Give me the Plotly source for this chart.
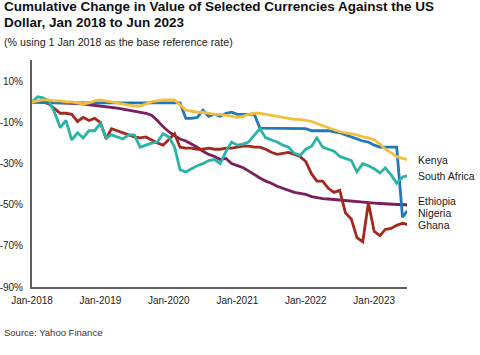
import plotly.graph_objects as go
import pandas as pd

# Monthly observations, Jan 2018 .. Jun 2023 (last = late June 2023)
dates = list(pd.date_range("2018-01-01", "2023-06-01", freq="MS").strftime("%Y-%m-%d")) + ["2023-06-26"]

kenya = [0, 0.5, 1, 1, 0.5, 0.5, 0, 0, -0.5, -1,
         -0.5, 0.5, 1, 0.5, 0, -0.5, -1, -1.5, -2, -2,
         -1, 0, 0.5, 1, 1, 1, -1.5, -4, -4.5, -5,
         -5, -5.5, -6, -6, -6.5, -7, -7.5, -7, -6, -5.5,
         -5.5, -6, -6.5, -7, -7.5, -8, -8.5, -8.5, -9, -9.5,
         -10.5, -11.5, -12.5, -13.5, -14.5, -15, -15.5, -16, -17, -17.5,
         -18.5, -20.5, -23, -25, -26.5, -27.5, -28]

nigeria = [0, 0, -0.3, -0.5, -0.5, -0.5, -0.5, -0.5, -0.5, -0.5,
           -0.5, -0.5, -0.5, -0.5, -0.5, -0.5, -0.5, -0.5, -0.5, -0.5,
           -0.5, -0.5, -0.5, -0.5, -0.5, -0.5, -0.5, -8, -8, -7.5,
           -4, -7, -6, -7, -5.5, -5, -6, -6, -6, -6,
           -12.7, -12.7, -12.7, -12.7, -12.7, -12.7, -12.7, -12.7, -13, -14,
           -14, -14, -14, -14.5, -15, -16, -17, -18, -19, -19.5,
           -21, -22, -22, -22, -22, -56, -53]

south_africa = [0, 2.5, 2, 0.5, -5, -12.5, -9, -18.5, -15, -17.5,
                -14, -14, -10.5, -17.5, -16, -17, -18, -16, -16, -22,
                -21, -20, -19.5, -15.5, -17, -22, -33, -34, -32.5, -31,
                -30, -28.5, -28, -30, -24, -19.5, -21, -20.5, -19.5, -16,
                -13, -17.5, -18.5, -19.5, -21, -22, -25, -26, -23, -21.5,
                -17.5, -22, -23, -24, -26.5, -27.5, -28.5, -34, -30, -31,
                -32.5, -34.5, -32, -35.5, -39.5, -36.5, -36]

ghana = [0, 0, 0, -1, -3, -5.5, -5.5, -6, -9.5, -7.5,
         -9, -8, -10, -18, -13, -14, -15, -16, -17, -17.5,
         -17, -18.5, -20, -21, -18, -15.5, -22, -22.5, -22.5, -23,
         -23, -22.5, -23, -23, -22.5, -22.5, -22, -21.5, -21.5, -22,
         -22, -23, -24.5, -25.5, -25, -24.5, -25.5, -26.5, -29, -35,
         -38.5, -38.5, -42, -44, -43, -54, -57, -66, -68, -49,
         -63, -65, -62, -61.5, -60, -59, -59.5]

ethiopia = [0, 0, 0, 0, -0.3, -0.5, -0.5, -0.5, -0.8, -1,
            -1.3, -1.6, -2, -2.3, -2.7, -3, -3.5, -4, -4.5, -5,
            -5.5, -6.5, -9, -12, -14.5, -16.5, -18, -19, -20.5, -22,
            -24, -25.5, -26.5, -28, -27.5, -30, -31, -32, -33.5, -35.5,
            -37, -38.5, -39.5, -41, -42, -43, -44, -44.5, -45, -46,
            -46.5, -47, -47.2, -47.5, -47.8, -48, -48.3, -48.6, -48.8, -49,
            -49.2, -49.4, -49.6, -49.8, -50, -50, -50]

series_names = ["Ethiopia", "Ghana", "Nigeria", "South Africa", "Kenya"]
series_values = [ethiopia, ghana, nigeria, south_africa, kenya]
colors = {"Kenya": "#F2BE3C", "Nigeria": "#2079B8", "South Africa": "#2BB3A6",
          "Ghana": "#A3281E", "Ethiopia": "#7A1E5E"}
label_shift = {"Kenya": 0, "South Africa": 0, "Ethiopia": 4, "Nigeria": -2, "Ghana": -1}

ytick_vals = [10, -10, -30, -50, -70, -90]
ytick_text = ["10%", "-10%", "-30%", "-50%", "-70%", "-90%"]
xtick_vals = ["2018-01-01", "2019-01-01", "2020-01-01", "2021-01-01", "2022-01-01", "2023-01-01"]
xtick_text = ["Jan-2018", "Jan-2019", "Jan-2020", "Jan-2021", "Jan-2022", "Jan-2023"]

FONT = "Liberation Sans, Arial, sans-serif"
fig = go.Figure()
for name, vals in zip(series_names, series_values):
    fig.add_trace(go.Scatter(x=dates, y=vals, mode="lines", name=name,
                             line=dict(color=colors[name], width=2.8),
                             showlegend=False))
    fig.add_annotation(x=1, y=vals[-1], xref="paper", yref="y", text=name,
                       showarrow=False, xanchor="left", yanchor="middle",
                       xshift=10, yshift=label_shift[name], borderpad=0,
                       font=dict(family=FONT, size=10.5, color="#1a1a1a"))

W, H = 480, 355
L, R, T, B = 32, 73, 60, 68

def px(xp):
    return (xp - L) / (W - L - R)

def py(yp):
    return (H - B - yp) / (H - T - B)

fig.add_annotation(xref="paper", yref="paper", x=px(2), y=py(-3), xanchor="left", yanchor="top",
                   text="<b>Cumulative Change in Value of Selected Currencies Against the US</b>",
                   showarrow=False, font=dict(family=FONT, size=13.5, color="#111111"))
fig.add_annotation(xref="paper", yref="paper", x=px(2), y=py(13), xanchor="left", yanchor="top",
                   text="<b>Dollar, Jan 2018 to Jun 2023</b>",
                   showarrow=False, font=dict(family=FONT, size=13.5, color="#111111"))
fig.add_annotation(xref="paper", yref="paper", x=px(2), y=py(34), xanchor="left", yanchor="top",
                   text="(% using 1 Jan 2018 as the base reference rate)",
                   showarrow=False, font=dict(family=FONT, size=10.7, color="#222222"))
fig.add_annotation(xref="paper", yref="paper", x=px(2), y=py(332), xanchor="left", yanchor="middle",
                   text="Source: Yahoo Finance",
                   showarrow=False, font=dict(family=FONT, size=9.5, color="#333333"))

fig.update_layout(
    width=W, height=H,
    margin=dict(l=L, r=R, t=T, b=B, autoexpand=False),
    paper_bgcolor="white", plot_bgcolor="white",
    font=dict(family=FONT, size=10, color="#222222"),
    xaxis=dict(type="date", range=["2018-01-01", "2023-06-25"],
               tickvals=xtick_vals, ticktext=xtick_text,
               showgrid=False, zeroline=False, showline=True,
               linecolor="#5f5f5f", linewidth=2, ticks="",
               ticklabelstandoff=3,
               tickfont=dict(family=FONT, size=10, color="#222222"),
               automargin=False),
    yaxis=dict(range=[-90, 20.4], tickvals=ytick_vals, ticktext=ytick_text,
               showgrid=False, zeroline=False, showline=True,
               linecolor="#5f5f5f", linewidth=2, ticks="",
               ticklabelstandoff=5,
               tickfont=dict(family=FONT, size=10, color="#222222"),
               automargin=False),
)

fig.write_html("out.html", config={"displayModeBar": False},
               post_script="document.body.style.margin='0';")
